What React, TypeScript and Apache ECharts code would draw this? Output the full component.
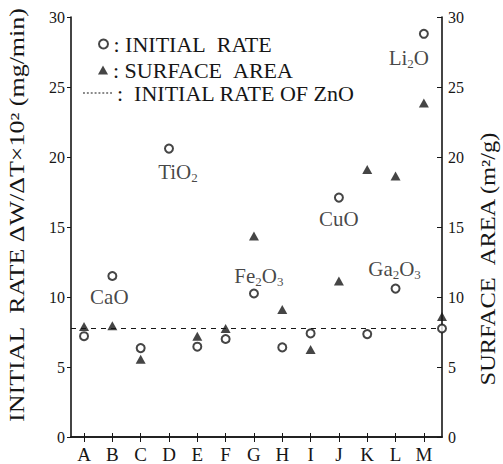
import React, { useEffect, useRef } from 'react';
import * as echarts from 'echarts';

// ---------- data ----------
const categories = ['A', 'B', 'C', 'D', 'E', 'F', 'G', 'H', 'I', 'J', 'K', 'L', 'M'];
const initialRate = [7.2, 11.5, 6.35, 20.6, 6.45, 7.0, 10.25, 6.4, 7.4, 17.1, 7.35, 10.6, 28.8];
const surfaceArea = [7.9, 7.95, 5.55, null, 7.2, 7.75, 14.35, 9.1, 6.25, 11.15, 19.1, 18.65, 23.85];
const znoInitialRate = 7.75;
const znoSurfaceArea = 8.6;
const compoundCategories = ['B', 'D', 'G', 'J', 'L', 'M'];
const compoundNames = ['CaO', 'TiO2', 'Fe2O3', 'CuO', 'Ga2O3', 'Li2O'];
const seriesNames = ['INITIAL RATE', 'SURFACE AREA', 'INITIAL RATE OF ZnO'];
const leftTitle = 'INITIAL RATE ΔW/ΔT×10² (mg/min)';
const rightTitle = 'SURFACE AREA (m²/g)';

// ---------- style ----------
const FONT = 'Liberation Serif, Times New Roman, serif';
const INK = '#161616';
const X_MIN = 0.54;
const X_MAX = 13.64;
const labelOffsets: Record<string, [number, number]> = {
  CaO: [-3, 21],
  TiO2: [9, 23],
  Fe2O3: [5, -18],
  CuO: [0, 21],
  Ga2O3: [-1, -20],
  Li2O: [-15, 24],
};

function toRich(t: string) {
  return t.replace(/([A-Za-z]+)|(\d+)/g, (m, a, d) => (a ? `{n|${a}}` : `{s|${d}}`));
}

export default function App() {
  const ref = useRef<HTMLDivElement>(null);
  useEffect(() => {
    if (!ref.current) return;
    const chart = echarts.init(ref.current, null, { renderer: 'svg' });
    const catPos = categories.map((_, i) => i + 1);

    const rateData: any[] = initialRate.map((v, i) => {
      const idx = compoundCategories.indexOf(categories[i]);
      const item: any = { value: [catPos[i], v] };
      if (idx >= 0) {
        const name = compoundNames[idx];
        item.label = {
          show: true,
          position: 'inside',
          align: 'center',
          verticalAlign: 'middle',
          offset: labelOffsets[name],
          formatter: toRich(name),
          rich: {
            n: { fontFamily: FONT, fontSize: 21, color: INK },
            s: { fontFamily: FONT, fontSize: 13, color: INK, padding: [11, 0, 0, 0] },
          },
        };
      }
      return item;
    });
    rateData.push({ value: [X_MAX, znoInitialRate] });

    const areaData: any[] = [];
    surfaceArea.forEach((v, i) => {
      if (v !== null) areaData.push([catPos[i], v]);
    });
    areaData.push([X_MAX, znoSurfaceArea]);

    const yAxisBase = {
      type: 'value',
      min: 0,
      max: 30,
      interval: 5,
      splitLine: { show: false },
      axisLine: { show: true, lineStyle: { color: INK, width: 1.6 } },
      axisLabel: { fontFamily: FONT, fontSize: 16, color: INK, margin: 6 },
    };

    const legendText = { fontFamily: FONT, fontSize: 22, color: INK };
    const dashIcon =
      'path://M0 0H2V1H0ZM4 0H6V1H4ZM8 0H10V1H8ZM12 0H14V1H12ZM16 0H18V1H16ZM20 0H22V1H20ZM24 0H26V1H24ZM28 0H30V1H28Z';

    chart.setOption({
      animation: false,
      backgroundColor: '#ffffff',
      textStyle: { fontFamily: FONT, color: INK },
      grid: { left: 71, right: 61, top: 17, bottom: 27 },
      legend: [
        {
          left: 98,
          top: 33,
          padding: 0,
          itemWidth: 10,
          itemHeight: 9,
          data: [{ name: seriesNames[0], icon: 'emptyCircle' }],
          formatter: (n: string) => ': ' + n.replace(' ', '\u2002'),
          textStyle: legendText,
        },
        {
          left: 98,
          top: 59,
          padding: 0,
          itemWidth: 10,
          itemHeight: 9,
          data: [{ name: seriesNames[1], icon: 'triangle' }],
          formatter: (n: string) => ': ' + n.replace(' ', '\u2002'),
          textStyle: legendText,
        },
        {
          left: 83,
          top: 82,
          padding: 0,
          itemWidth: 29,
          itemHeight: 1.4,
          data: [{ name: seriesNames[2], icon: dashIcon, itemStyle: { color: INK } }],
          formatter: (n: string) => ':\u2002' + n,
          textStyle: legendText,
        },
      ],
      xAxis: [
        {
          type: 'value',
          min: X_MIN,
          max: X_MAX,
          position: 'bottom',
          splitLine: { show: false },
          axisLine: { show: true, lineStyle: { color: INK, width: 1.6 } },
          axisTick: { show: true, inside: true, length: 4, customValues: catPos, lineStyle: { color: INK } },
          axisLabel: {
            show: true,
            customValues: catPos,
            formatter: (v: number) => categories[Math.round(v) - 1] ?? '',
            fontFamily: FONT,
            fontSize: 19,
            color: INK,
            margin: 8,
          },
        },
        {
          type: 'value',
          min: X_MIN,
          max: X_MAX,
          position: 'top',
          splitLine: { show: false },
          axisLine: { show: true, lineStyle: { color: INK, width: 1.6 } },
          axisTick: { show: true, inside: true, length: 5, customValues: catPos, lineStyle: { color: INK } },
          axisLabel: { show: false },
        },
      ],
      yAxis: [
        {
          ...yAxisBase,
          position: 'left',
          axisTick: { show: true, inside: false, length: 4, lineStyle: { color: INK } },
        },
        {
          ...yAxisBase,
          position: 'right',
          axisTick: { show: true, inside: true, length: 5, lineStyle: { color: INK } },
        },
      ],
      series: [
        {
          name: seriesNames[0],
          type: 'scatter',
          xAxisIndex: 0,
          yAxisIndex: 0,
          symbol: 'emptyCircle',
          symbolSize: 8,
          itemStyle: { color: INK, borderWidth: 1.4 },
          data: rateData,
          z: 4,
        },
        {
          name: seriesNames[1],
          type: 'scatter',
          xAxisIndex: 0,
          yAxisIndex: 1,
          symbol: 'triangle',
          symbolSize: [10, 9],
          itemStyle: { color: INK },
          data: areaData,
          z: 3,
        },
        {
          name: seriesNames[2],
          type: 'line',
          xAxisIndex: 0,
          yAxisIndex: 0,
          symbol: 'none',
          itemStyle: { color: INK },
          lineStyle: { color: INK, width: 1.2, type: [5, 5] },
          data: [
            [X_MIN, znoInitialRate],
            [X_MAX, znoInitialRate],
          ],
          z: 2,
        },
      ],
      graphic: [
        {
          type: 'text',
          x: 17,
          y: 215,
          rotation: Math.PI / 2,
          scaleX: 1.3,
          style: {
            text: leftTitle.replace(' ', '\u2002'),
            fontFamily: FONT,
            fontSize: 20,
            fill: INK,
            align: 'center',
            verticalAlign: 'middle',
          },
        },
        {
          type: 'text',
          x: 488,
          y: 259,
          rotation: Math.PI / 2,
          scaleX: 1.22,
          style: {
            text: rightTitle.replace(' ', '\u2002'),
            fontFamily: FONT,
            fontSize: 20,
            fill: INK,
            align: 'center',
            verticalAlign: 'middle',
          },
        },
      ],
    });
    return () => chart.dispose();
  }, []);
  return (
    <>
      <style>{`#chart-root svg text, #chart-root svg tspan { font-family: "Liberation Serif", "Times New Roman", serif !important; }`}</style>
      <div
        id="chart-root"
        ref={ref}
        style={{ position: 'fixed', left: 0, top: 0, width: 503, height: 464, background: '#fff' }}
      />
    </>
  );
}
